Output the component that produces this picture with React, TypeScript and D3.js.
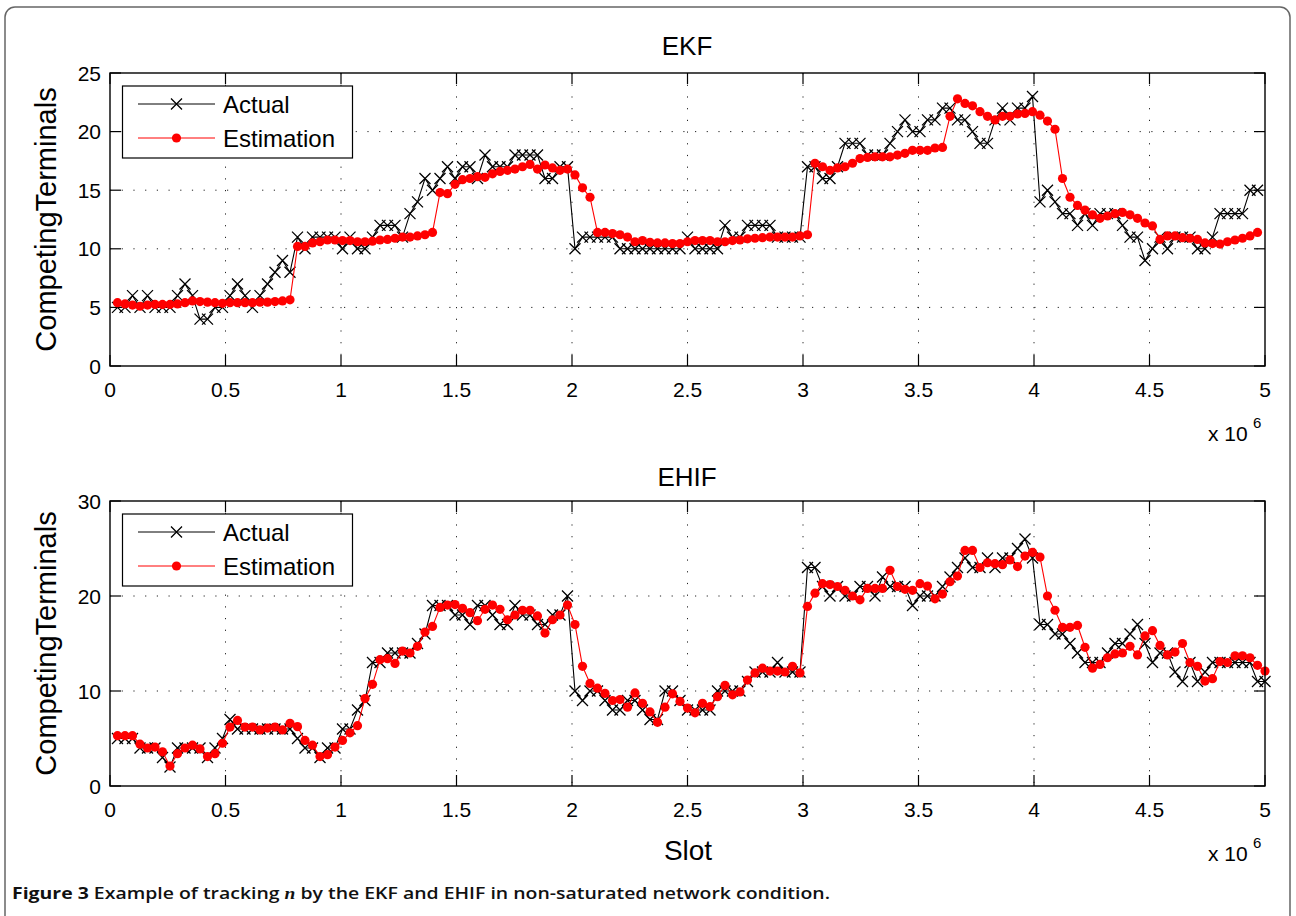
import React from 'react';
import * as d3 from 'd3';

// sampling grid of the slot axis (154 samples over 5e6 slots)
const SLOT_STEP = 5e6 / 154;

const ekfActual = [
  5, 5, 6, 5, 6, 5, 5, 5, 6, 7,
  6, 4, 4, 5, 5, 6, 7, 6, 5, 6,
  7, 8, 9, 8, 11, 10, 11, 11, 11, 11,
  10, 11, 10, 10, 11, 12, 12, 12, 11, 13,
  14, 16, 15, 16, 17, 16, 17, 17, 16, 18,
  17, 17, 17, 18, 18, 18, 18, 16, 16, 17,
  17, 10, 11, 11, 11, 11, 11, 10, 10, 10,
  10, 10, 10, 10, 10, 10, 11, 10, 10, 10,
  10, 12, 11, 11, 12, 12, 12, 12, 11, 11,
  11, 11, 17, 17, 16, 16, 17, 19, 19, 19,
  18, 18, 18, 19, 20, 21, 20, 20, 21, 21,
  22, 22, 21, 21, 20, 19, 19, 21, 22, 21,
  22, 22, 23, 14, 15, 14, 13, 13, 12, 13,
  12, 13, 13, 13, 12, 11, 11, 9, 10, 11,
  10, 11, 11, 11, 10, 10, 11, 13, 13, 13,
  13, 15, 15,
];

const ekfEstimation = [
  5.4, 5.3, 5.2, 5.1, 5.2, 5.25, 5.25, 5.25, 5.3, 5.4,
  5.55, 5.5, 5.45, 5.4, 5.35, 5.4, 5.4, 5.4, 5.4, 5.45,
  5.45, 5.5, 5.55, 5.65, 10.2, 10.2, 10.5, 10.6, 10.75, 10.75,
  10.7, 10.7, 10.6, 10.6, 10.65, 10.75, 10.8, 10.9, 11.0, 11.0,
  11.1, 11.2, 11.4, 14.8, 14.7, 15.5, 15.9, 16.0, 16.15, 16.1,
  16.4, 16.6, 16.7, 16.8, 17.0, 17.2, 16.8, 17.15, 16.9, 16.7,
  16.8, 16.3, 15.2, 14.4, 11.4, 11.4, 11.3, 11.2, 11.0, 10.6,
  10.7, 10.55, 10.5, 10.5, 10.45, 10.45, 10.6, 10.7, 10.7, 10.7,
  10.6, 10.6, 10.7, 10.75, 10.85, 10.9, 10.95, 11.0, 11.0, 11.0,
  11.0, 11.1, 11.2, 17.3, 17.0, 16.7, 16.9, 17.0, 17.3, 17.7,
  17.8, 17.85, 17.85, 17.85, 18.0, 18.15, 18.4, 18.4, 18.4, 18.6,
  18.65, 21.3, 22.8, 22.4, 22.2, 21.7, 21.3, 21.0, 21.3, 21.3,
  21.5, 21.55, 21.7, 21.4, 20.9, 20.2, 16.0, 14.4, 13.7, 13.3,
  12.9, 12.6, 12.8, 13.0, 13.1, 12.9, 12.6, 12.2, 11.95, 10.8,
  11.1, 11.1, 10.95, 10.9, 10.8, 10.5, 10.45, 10.4, 10.6, 10.75,
  10.9, 11.1, 11.4,
];

const ehifActual = [
  5, 5, 5, 4, 4, 4, 3, 2, 4, 4,
  4, 4, 3, 4, 5, 7, 6, 6, 6, 6,
  6, 6, 6, 6, 5, 4, 4, 3, 4, 4,
  6, 6, 8, 9, 13, 13, 14, 14, 14, 14,
  15, 16, 19, 19, 19, 18, 18, 17, 19, 19,
  18, 17, 17, 19, 18, 18, 17, 17, 18, 18,
  20, 10, 9, 10, 10, 9, 8, 8, 9, 9,
  8, 7, 7, 10, 10, 9, 8, 8, 8, 8,
  10, 10, 10, 10, 11, 12, 12, 12, 13, 12,
  12, 12, 23, 23, 21, 20, 21, 20, 20, 21,
  21, 20, 22, 21, 21, 21, 19, 20, 20, 20,
  21, 22, 23, 24, 23, 23, 24, 23, 24, 24,
  25, 26, 24, 17, 17, 16, 16, 15, 14, 13,
  13, 13, 14, 15, 15, 16, 17, 15, 13, 14,
  14, 12, 11, 13, 11, 12, 13, 13, 13, 13,
  13, 13, 11, 11,
];

const ehifEstimation = [
  5.3, 5.3, 5.3, 4.4, 4.0, 4.1, 3.6, 2.1, 3.4, 4.0,
  4.3, 3.9, 3.1, 3.4, 4.5, 6.2, 6.9, 6.2, 6.2, 5.9,
  6.1, 6.2, 5.9, 6.6, 6.25, 4.8, 4.3, 3.1, 3.3, 4.1,
  4.8, 5.6, 6.35, 9.2, 10.7, 13.3, 13.4, 12.9, 14.2, 14.0,
  14.7, 16.2, 16.8, 18.8, 19.05, 19.1, 18.7, 18.25, 17.4, 18.6,
  19.05, 18.6, 17.5, 18.0, 18.5, 18.5, 17.9, 16.1, 17.5, 18.0,
  19.05, 17.0, 12.6, 10.8, 10.3, 9.75, 9.0, 9.1, 8.3, 9.8,
  8.7, 7.8, 6.7, 8.3, 9.7, 8.9, 8.2, 7.7, 8.7, 8.35,
  9.4, 10.6, 9.6, 9.9, 11.15, 11.9, 12.4, 12.1, 12.1, 12.0,
  12.6, 11.9, 18.9, 20.3, 21.3, 21.2, 21.0, 20.6, 20.0, 19.6,
  20.8, 20.8, 20.8, 22.7, 21.0, 20.7, 20.6, 21.3, 21.05, 19.7,
  20.2, 21.5, 22.1, 24.8, 24.8, 23.0, 23.5, 23.4, 23.3, 23.8,
  23.1, 24.2, 24.6, 24.1, 20.0, 18.5, 16.7, 16.7, 16.9, 14.6,
  12.4, 12.8, 13.5, 13.9, 14.0, 14.7, 13.8, 15.8, 16.35, 14.8,
  13.8, 14.1, 15.0, 13.0, 12.6, 11.05, 11.3, 13.1, 13.0, 13.7,
  13.7, 13.5, 12.7, 12.1,
];

const xTicks = [0, 0.5e6, 1e6, 1.5e6, 2e6, 2.5e6, 3e6, 3.5e6, 4e6, 4.5e6, 5e6];
const xTickLabels = ['0', '0.5', '1', '1.5', '2', '2.5', '3', '3.5', '4', '4.5', '5'];
const ekfYTicks = [0, 5, 10, 15, 20, 25];
const ehifYTicks = [0, 10, 20, 30];
const seriesNames = ['Actual', 'Estimation'];

const FONT = '"Liberation Sans", Arial, Helvetica, sans-serif';
const PLOT_LEFT = 110;
const PLOT_RIGHT = 1265;

type PanelProps = {
  title: string;
  top: number;
  bottom: number;
  yMax: number;
  yTicks: number[];
  actual: number[];
  estimation: number[];
  titleY: number;
  showXLabel: boolean;
};

function Cross({ cx, cy, s }: { cx: number; cy: number; s: number }) {
  return (
    <path
      d={`M${cx - s},${cy - s}L${cx + s},${cy + s}M${cx - s},${cy + s}L${cx + s},${cy - s}`}
      stroke="#000"
      strokeWidth={1.25}
      fill="none"
    />
  );
}

function Panel(p: PanelProps) {
  const x = d3.scaleLinear().domain([0, 5e6]).range([PLOT_LEFT, PLOT_RIGHT]);
  const y = d3.scaleLinear().domain([0, p.yMax]).range([p.bottom, p.top]);
  const toPts = (vals: number[]) => vals.map((v, i) => [x((i + 1) * SLOT_STEP), y(v)] as [number, number]);
  const actPts = toPts(p.actual);
  const estPts = toPts(p.estimation);
  const line = d3.line<[number, number]>().x((d) => d[0]).y((d) => d[1]);
  const tickLen = 11;
  const lgTop = p.top + 13;
  const lgLeft = 122.5;
  const row1 = lgTop + 18;
  const row2 = lgTop + 52;
  const midY = (p.top + p.bottom) / 2;

  return (
    <g>
      {xTicks.slice(1, -1).map((t) => (
        <line key={'gx' + t} x1={x(t)} x2={x(t)} y1={p.top} y2={p.bottom}
          stroke="#222" strokeWidth={1} strokeDasharray="1.2 10.5" />
      ))}
      {p.yTicks.slice(1, -1).map((t) => (
        <line key={'gy' + t} x1={PLOT_LEFT} x2={PLOT_RIGHT} y1={y(t)} y2={y(t)}
          stroke="#222" strokeWidth={1} strokeDasharray="1.2 10.5" />
      ))}
      {xTicks.map((t) => (
        <g key={'tx' + t}>
          <line x1={x(t)} x2={x(t)} y1={p.bottom} y2={p.bottom - tickLen} stroke="#000" strokeWidth={1.2} />
          <line x1={x(t)} x2={x(t)} y1={p.top} y2={p.top + tickLen} stroke="#000" strokeWidth={1.2} />
        </g>
      ))}
      {p.yTicks.map((t) => (
        <g key={'ty' + t}>
          <line x1={PLOT_LEFT} x2={PLOT_LEFT + tickLen} y1={y(t)} y2={y(t)} stroke="#000" strokeWidth={1.2} />
          <line x1={PLOT_RIGHT} x2={PLOT_RIGHT - tickLen} y1={y(t)} y2={y(t)} stroke="#000" strokeWidth={1.2} />
        </g>
      ))}
      <path d={line(actPts) || ''} fill="none" stroke="#000" strokeWidth={1.1} />
      {actPts.map((d, i) => (
        <Cross key={'a' + i} cx={d[0]} cy={d[1]} s={5.5} />
      ))}
      <path d={line(estPts) || ''} fill="none" stroke="#ff0000" strokeWidth={1.1} />
      {estPts.map((d, i) => (
        <circle key={'e' + i} cx={d[0]} cy={d[1]} r={4.6} fill="#ff0000" />
      ))}
      <rect x={PLOT_LEFT} y={p.top} width={PLOT_RIGHT - PLOT_LEFT} height={p.bottom - p.top}
        fill="none" stroke="#000" strokeWidth={1.4} />
      {xTicks.map((t, i) => (
        <text key={'lx' + t} x={x(t)} y={p.bottom + 31} textAnchor="middle" fontSize={21} fontFamily={FONT}>
          {xTickLabels[i]}
        </text>
      ))}
      {p.yTicks.map((t) => (
        <text key={'ly' + t} x={101} y={y(t) + 7.5} textAnchor="end" fontSize={21} fontFamily={FONT}>
          {String(t)}
        </text>
      ))}
      <text x={1208} y={p.bottom + 75} fontSize={21} fontFamily={FONT}>x 10</text>
      <text x={1253} y={p.bottom + 62} fontSize={15} fontFamily={FONT}>6</text>
      <text x={687} y={p.titleY} textAnchor="middle" fontSize={26} fontFamily={FONT}>{p.title}</text>
      <text transform={`translate(56,${midY}) rotate(-90)`} textAnchor="middle" fontSize={29} fontFamily={FONT}>
        CompetingTerminals
      </text>
      {p.showXLabel && (
        <text x={688} y={p.bottom + 74} textAnchor="middle" fontSize={28} fontFamily={FONT}>Slot</text>
      )}
      <rect x={lgLeft} y={lgTop} width={230} height={72} fill="#fff" stroke="#000" strokeWidth={1.2} />
      <line x1={138} x2={215} y1={row1} y2={row1} stroke="#000" strokeWidth={1} />
      <Cross cx={176.5} cy={row1} s={5.5} />
      <text x={223} y={row1 + 8.5} fontSize={24} fontFamily={FONT}>{seriesNames[0]}</text>
      <line x1={138} x2={215} y1={row2} y2={row2} stroke="#ff0000" strokeWidth={1} />
      <circle cx={176.5} cy={row2} r={4.6} fill="#ff0000" />
      <text x={223} y={row2 + 8.5} fontSize={24} fontFamily={FONT}>{seriesNames[1]}</text>
    </g>
  );
}

export default function App() {
  return (
    <svg width={1296} height={916} style={{ position: 'absolute', left: 0, top: 0, background: '#fff' }}
      xmlns="http://www.w3.org/2000/svg">
      <rect x={0} y={0} width={1296} height={916} fill="#fff" />
      <rect x={5} y={7} width={1285} height={940} rx={10} ry={10} fill="none" stroke="#666" strokeWidth={1.5} />
      <Panel title="EKF" top={73} bottom={366} yMax={25} yTicks={ekfYTicks}
        actual={ekfActual} estimation={ekfEstimation} titleY={55} showXLabel={false} />
      <Panel title="EHIF" top={501} bottom={786} yMax={30} yTicks={ehifYTicks}
        actual={ehifActual} estimation={ehifEstimation} titleY={486} showXLabel={true} />
      <text x={12} y={899} fontSize={16.5} fontFamily={'"Open Sans", "Noto Sans", sans-serif'}
        textLength={818} lengthAdjust="spacingAndGlyphs" fill="#111">
        <tspan fontWeight={700}>Figure 3</tspan>
        <tspan fontWeight={600}> Example of tracking </tspan>
        <tspan fontStyle="italic" fontFamily={'"Liberation Serif", serif'} fontWeight={600}>n</tspan>
        <tspan fontWeight={600}> by the EKF and EHIF in non-saturated network condition.</tspan>
      </text>
    </svg>
  );
}
